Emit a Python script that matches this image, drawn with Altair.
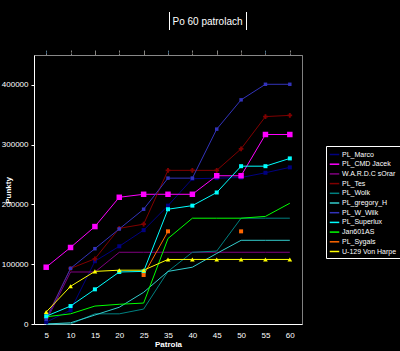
import altair as alt
import pandas as pd

patrols = ["5", "10", "15", "20", "25", "35", "40", "45", "50", "55", "60"]

series_names = [
    "PL_Marco", "PL_CMD Jacek", "W.A.R.D.C sOrar", "PL_Tes", "PL_Wolk",
    "PL_gregory_H", "PL_W_Wilk", "PL_Superlux", "Jan601AS", "PL_Sygals",
    "U-129 Von Harpe",
]
series_colors = [
    "#000080", "#FF00FF", "#800080", "#800000", "#008080",
    "#33CCCC", "#3333BB", "#00FFFF", "#00FF00", "#FF6600", "#FFFF00",
]

pl_marco = [3000, 23000, 105000, 130000, 157000, 198000, 243000, 244000, 245000, 253000, 262000]
pl_cmd_jacek = [95000, 128000, 163000, 212000, 217000, 217000, 217000, 248000, 248000, 317000, 317000]
wardc = [5000, 87000, 87000, 120000, 120000, 120000, 120000, 120000, 120000, 120000, 120000]
pl_tes = [10000, 93000, 109000, 160000, 167000, 257000, 257000, 257000, 293000, 347000, 349000]
pl_wolk = [0, 0, 17000, 17000, 25000, 88000, 120000, 122000, 177000, 177000, 177000]
pl_gregory = [0, 2000, 15000, 28000, 53000, 88000, 95000, 118000, 140000, 140000, 140000]
pl_w_wilk = [8000, 93000, 126000, 159000, 192000, 244000, 244000, 326000, 375000, 401000, 401000]
pl_superlux = [13000, 30000, 58000, 87000, 88000, 192000, 198000, 220000, 264000, 264000, 277000]
jan601 = [12000, 17000, 30000, 33000, 35000, 143000, 177000, 177000, 177000, 180000, 202000]
pl_sygals = [None, None, None, None, 82000, 155000, None, None, 155000, None, None]
u129 = [20000, 63000, 88000, 90000, 90000, 108000, 108000, 108000, 108000, 108000, 108000]

all_values = [pl_marco, pl_cmd_jacek, wardc, pl_tes, pl_wolk, pl_gregory,
              pl_w_wilk, pl_superlux, jan601, pl_sygals, u129]

title_text = "Po 60 patrolach"

# marker style per series (shape, size)
markers = {
    "PL_Marco": ("square", 16),
    "PL_CMD Jacek": ("square", 30),
    "PL_Tes": ("cross", 22),
    "PL_W_Wilk": ("square", 12),
    "PL_Superlux": ("square", 16),
    "PL_Sygals": ("square", 16),
    "U-129 Von Harpe": ("triangle-up", 22),
}

rows = []
for name, vals in zip(series_names, all_values):
    seg = 0
    seen = False
    gap = False
    for i, (p, v) in enumerate(zip(patrols, vals)):
        if v is None:
            gap = True
            continue
        if gap and seen:
            seg += 1
        gap = False
        seen = True
        rows.append({"patrol": p, "idx": i, "series": name, "value": v,
                     "seg": f"{name}-{seg}"})
df = pd.DataFrame(rows)

pts = df[df["series"].isin(markers.keys())].copy()
pts["shape"] = pts["series"].map(lambda s: markers[s][0])
pts["size"] = pts["series"].map(lambda s: markers[s][1])

font = "Liberation Sans"

color_scale = alt.Scale(domain=series_names, range=series_colors)
x_scale = alt.Scale(type="point", padding=0.5, domain=patrols)
x_enc = alt.X(
    "patrol:O",
    scale=x_scale,
    axis=alt.Axis(
        title="Patrola", labelAngle=0, ticks=False, labelPadding=7,
        labelColor="white", labelFont=font, labelFontSize=8,
        domainColor="white", domainWidth=1,
        titleColor="white", titleFont=font, titleFontSize=8, titleFontWeight="bold",
        titleY=22, titleBaseline="alphabetic",
    ),
)
y_enc = alt.Y(
    "value:Q",
    scale=alt.Scale(domain=[0, 450000]),
    axis=alt.Axis(
        title="Punkty", values=list(range(0, 450001, 50000)), format="d",
        grid=False, tickSize=3, tickColor="white", labelPadding=3,
        labelColor="white", labelFont=font, labelFontSize=8,
        domainColor="white", domainWidth=1,
        titleColor="white", titleFont=font, titleFontSize=8, titleFontWeight="bold",
        titleAngle=-90, titleX=-26, titleY=135, titleAlign="center",
        titleBaseline="middle",
    ),
)

lines = alt.Chart(df).mark_line(strokeWidth=1).encode(
    x=x_enc,
    y=y_enc,
    color=alt.Color(
        "series:N", scale=color_scale,
        legend=alt.Legend(
            title=None, orient="none", legendX=292, legendY=91,
            symbolType="stroke", symbolSize=90, symbolStrokeWidth=1.5,
            labelColor="white", labelFont=font, labelFontSize=7, labelLimit=80,
            rowPadding=0.7, padding=3, fillColor="black", strokeColor="white",
            labelOffset=2,
        ),
    ),
    detail="seg:N",
    order=alt.Order("idx:Q"),
)

points = alt.Chart(pts).mark_point(filled=True, opacity=1).encode(
    x=alt.X("patrol:O", scale=x_scale),
    y=alt.Y("value:Q"),
    color=alt.Color("series:N", scale=color_scale, legend=None),
    shape=alt.Shape("shape:N", scale=None),
    size=alt.Size("size:Q", scale=None),
)

title_df = pd.DataFrame({"t": [title_text]})
title_mark = alt.Chart(title_df).mark_text(
    color="white", font=font, fontSize=10, align="center", baseline="alphabetic"
).encode(text="t:N", x=alt.value(173.5), y=alt.value(-30))

bars = alt.Chart(pd.DataFrame({"b": [0, 1]})).mark_rule(color="white", strokeWidth=1).encode(
    x=alt.X("b:Q", scale=alt.Scale(domain=[0, 1], range=[135.5, 212.5]), axis=None),
    y=alt.value(-43),
    y2=alt.value(-25),
)

chart = alt.layer(lines, points, title_mark, bars).resolve_scale(x="independent").properties(
    width=268,
    height=269,
    background="black",
    autosize=alt.AutoSizeParams(type="none"),
    padding={"left": 34, "top": 55, "right": 98, "bottom": 27},
).configure_view(stroke="#808080", strokeWidth=1)

chart.save("out.html", embed_options={"renderer": "svg", "actions": False})
